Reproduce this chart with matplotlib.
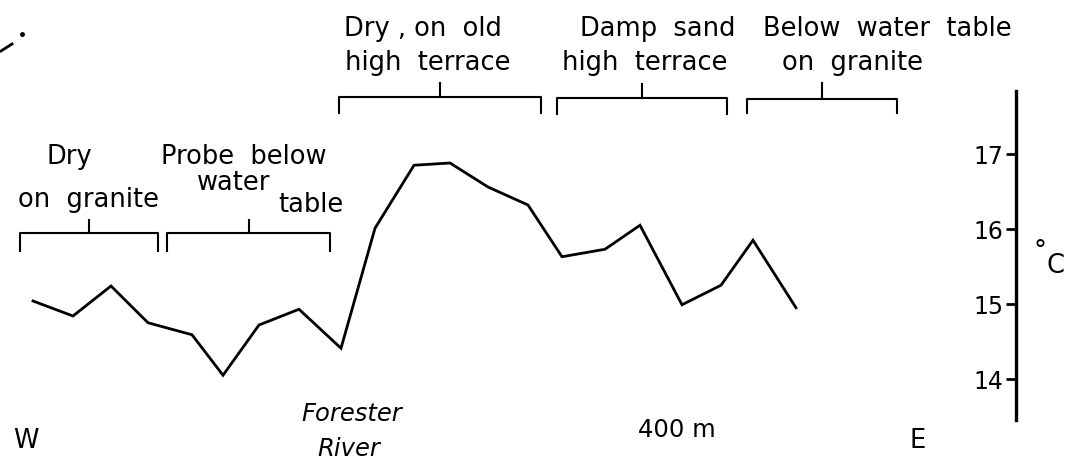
import matplotlib
matplotlib.use("Agg")
import matplotlib.pyplot as plt

# distance along the W-E transect (arbitrary units) and soil temperature (°C)
distance = [33, 73, 111, 148, 192, 223, 259, 299, 341, 375, 414, 450,
            488, 528, 562, 605, 640, 682, 721, 753, 796]
temps = [15.04, 14.84, 15.24, 14.75, 14.59, 14.05, 14.72, 14.93, 14.41, 16.01,
         16.85, 16.88, 16.56, 16.32, 15.63, 15.73, 16.05, 14.99, 15.25, 15.85, 14.95]
yticks = [14, 15, 16, 17]

# zone brackets along the transect
zones_start = [20, 167, 339, 557, 747]
zones_end = [158, 330, 541, 727, 897]

W, H = 1068, 462
fig = plt.figure(figsize=(W / 100, H / 100), dpi=100)
fig.patch.set_facecolor("white")

ax = fig.add_axes([0, 0, 1, 1])
ax.set_xlim(0, W)
ax.set_ylim(17 - 308 / 75, 17 + 154 / 75)
ax.patch.set_alpha(0)
for s in ["top", "right", "bottom"]:
    ax.spines[s].set_visible(False)
ax.spines["left"].set_position(("data", 1016))
ax.spines["left"].set_bounds(13.45, 17.84)
ax.spines["left"].set_linewidth(2.4)
ax.set_xticks([])
ax.set_yticks(yticks)
ax.tick_params(axis="y", direction="out", length=7, width=2, pad=2,
               labelsize=17, colors="black")
ax.plot(distance, temps, color="black", lw=2.0, solid_joinstyle="miter")

# overlay for annotations in pixel space
an = fig.add_axes([0, 0, 1, 1], frameon=False)
an.set_xlim(0, W)
an.set_ylim(H, 0)
an.axis("off")

fs = 18.5
kw = dict(color="black", fontsize=fs, family="DejaVu Sans")

def bracket(x0, x1, y, leg, tick_up):
    xm = (x0 + x1) / 2
    an.plot([x0, x0, x1, x1], [y + leg, y, y, y + leg], color="black", lw=1.5)
    an.plot([xm, xm], [y, y - tick_up], color="black", lw=1.5)

bracket(zones_start[0], zones_end[0], 233, 18, 13)
bracket(zones_start[1], zones_end[1], 233, 18, 13)
bracket(zones_start[2], zones_end[2], 97, 16, 14)
bracket(zones_start[3], zones_end[3], 98, 16, 14)
bracket(zones_start[4], zones_end[4], 99, 14, 16)

an.text(69, 157, "Dry", ha="center", va="center", **kw)
an.text(88, 200, "on  granite", ha="center", va="center", **kw)
an.text(244, 157, "Probe  below", ha="center", va="center", **kw)
an.text(234, 183, "water", ha="center", va="center", **kw)
an.text(311, 205, "table", ha="center", va="center", **kw)
an.text(423, 29, "Dry , on  old", ha="center", va="center", **kw)
an.text(428, 63, "high  terrace", ha="center", va="center", **kw)
an.text(658, 29, "Damp  sand", ha="center", va="center", **kw)
an.text(645, 63, "high  terrace", ha="center", va="center", **kw)
an.text(887, 29, "Below  water  table", ha="center", va="center", **kw)
an.text(852, 63, "on  granite", ha="center", va="center", **kw)
an.text(1040, 252, "°", ha="center", va="center", **kw)
an.text(1055, 266, "C", ha="center", va="center", **kw)
an.text(26, 441, "W", ha="center", va="center", **kw)
an.text(918, 441, "E", ha="center", va="center", **kw)
an.text(677, 430, "400 m", ha="center", va="center", color="black",
        fontsize=17.5, family="DejaVu Sans")
an.text(352, 414, "Forester", ha="center", va="center", style="italic",
        color="black", fontsize=17.5, family="DejaVu Sans")
an.text(349, 449, "River", ha="center", va="center", style="italic",
        color="black", fontsize=17.5, family="DejaVu Sans")

# small stray pen marks at top-left of the original drawing
an.plot([1, 12], [51, 44], color="black", lw=2)
an.plot([22], [34], marker="o", ms=2.5, color="black")

fig.savefig("out.png", dpi=100, facecolor="white")
